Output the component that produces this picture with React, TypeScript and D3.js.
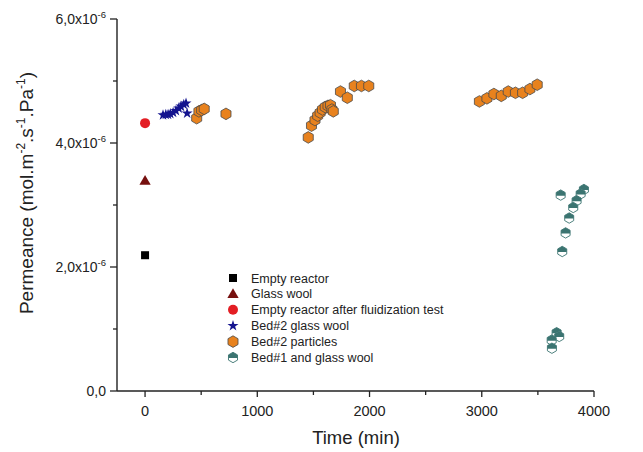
import React from "react";
import * as d3 from "d3";

const W = 643;
const H = 452;

// Data (x: time in min, y: permeance in 1e-6 mol.m-2.s-1.Pa-1)
const emptyReactorX = [0];
const emptyReactorY = [2.19];
const glassWoolX = [0];
const glassWoolY = [3.39];
const emptyAfterX = [0];
const emptyAfterY = [4.32];
const bed2WoolX = [160, 185, 205, 225, 250, 275, 300, 320, 345, 365, 375];
const bed2WoolY = [4.45, 4.46, 4.46, 4.47, 4.49, 4.52, 4.56, 4.59, 4.62, 4.64, 4.48];
const bed2PartX = [460, 480, 504, 527, 721, 1454, 1483, 1514, 1538, 1560, 1581, 1605, 1630, 1652, 1665, 1677, 1741, 1802, 1864, 1928, 1993, 2979, 3046, 3108, 3174, 3236, 3300, 3364, 3429, 3494];
const bed2PartY = [4.40, 4.51, 4.53, 4.55, 4.47, 4.09, 4.28, 4.37, 4.44, 4.49, 4.54, 4.58, 4.60, 4.61, 4.54, 4.51, 4.83, 4.73, 4.92, 4.92, 4.92, 4.67, 4.72, 4.79, 4.76, 4.83, 4.81, 4.81, 4.87, 4.94];
const bed1X = [3703, 3910, 3881, 3845, 3815, 3779, 3747, 3717, 3667, 3690, 3623, 3625];
const bed1Y = [3.16, 3.25, 3.18, 3.07, 2.96, 2.79, 2.55, 2.25, 0.94, 0.88, 0.82, 0.69];

const xMajorTicks = [0, 1000, 2000, 3000, 4000];
const xMinorTicks = [500, 1500, 2500, 3500];
const yMajorTicks = [0, 2, 4, 6];
const yMinorTicks = [1, 3, 5];
const yTickMantissa = ["0,0", "2,0", "4,0", "6,0"];

const legendLabels = [
  "Empty reactor",
  "Glass wool",
  "Empty reactor after fluidization test",
  "Bed#2 glass wool",
  "Bed#2 particles",
  "Bed#1 and glass wool",
];

const FONT = "'Liberation Sans', Arial, sans-serif";
const AXIS = "#222";
const ORANGE = "#e8821e";
const NAVY = "#14148f";
const RED = "#e31e24";
const WINE = "#76100f";
const TEAL = "#3b7471";

const x = d3.scaleLinear().domain([-250, 4000]).range([117, 594]);
const y = d3.scaleLinear().domain([0, 6]).range([391, 19]);

const hexPath = (r: number) => {
  const w = (r * Math.sqrt(3)) / 2;
  return `M0,${-r}L${w},${-r / 2}L${w},${r / 2}L0,${r}L${-w},${r / 2}L${-w},${-r / 2}Z`;
};
const hexTop = (r: number) => {
  const w = (r * Math.sqrt(3)) / 2;
  return `M${-w},0.6L${-w},${-r / 2}L0,${-r}L${w},${-r / 2}L${w},0.6Z`;
};

const starPath = d3.symbol(d3.symbolStar, 38)() as string;
const trianglePath = d3.symbol(d3.symbolTriangle, 55)() as string;

type MarkerKind = "square" | "triangle" | "circle" | "star" | "hexO" | "hexT";

function Marker({ kind, cx, cy }: { kind: MarkerKind; cx: number; cy: number }) {
  const t = `translate(${cx},${cy})`;
  switch (kind) {
    case "square":
      return <rect x={cx - 4} y={cy - 4} width={8} height={8} fill="#000" />;
    case "triangle":
      return <path d={trianglePath} transform={`translate(${cx},${cy + 0.8})`} fill={WINE} />;
    case "circle":
      return <circle cx={cx} cy={cy} r={5} fill={RED} />;
    case "star":
      return <path d={starPath} transform={t} fill={NAVY} />;
    case "hexO":
      return <path d={hexPath(5.8)} transform={t} fill={ORANGE} stroke="#4a4a4a" strokeWidth={0.8} />;
    case "hexT":
      return (
        <g transform={t}>
          <path d={hexPath(5.2)} fill="#fff" stroke={TEAL} strokeWidth={0.9} />
          <path d={hexTop(5.2)} fill={TEAL} />
        </g>
      );
  }
}

const series: { xs: number[]; ys: number[]; kind: MarkerKind }[] = [
  { xs: emptyReactorX, ys: emptyReactorY, kind: "square" },
  { xs: glassWoolX, ys: glassWoolY, kind: "triangle" },
  { xs: emptyAfterX, ys: emptyAfterY, kind: "circle" },
  { xs: bed2WoolX, ys: bed2WoolY, kind: "star" },
  { xs: bed2PartX, ys: bed2PartY, kind: "hexO" },
  { xs: bed1X, ys: bed1Y, kind: "hexT" },
];

export default function App() {
  const x0 = x.range()[0];
  const y0 = y.range()[0];
  return (
    <svg width={W} height={H} style={{ position: "absolute", left: 0, top: 0, background: "#fff" }} fontFamily={FONT}>
      <rect width={W} height={H} fill="#fff" />
      {/* axes */}
      <line x1={x0} x2={x0} y1={y(6)} y2={y0} stroke={AXIS} strokeWidth={1.4} />
      <line x1={x0} x2={x(4000)} y1={y0} y2={y0} stroke={AXIS} strokeWidth={1.4} />
      {yMajorTicks.map((v, i) => (
        <g key={"ym" + v}>
          <line x1={x0 - 7} x2={x0} y1={y(v)} y2={y(v)} stroke={AXIS} strokeWidth={1.3} />
          <text x={x0 - 11} y={y(v) + 5} fontSize={14} textAnchor="end" fill="#222">
            {v === 0 ? (
              yTickMantissa[i]
            ) : (
              <>
                {yTickMantissa[i] + "x10"}
                <tspan fontSize={9.5} dy={-6.5}>-6</tspan>
              </>
            )}
          </text>
        </g>
      ))}
      {yMinorTicks.map((v) => (
        <line key={"yn" + v} x1={x0 - 4} x2={x0} y1={y(v)} y2={y(v)} stroke={AXIS} strokeWidth={1.3} />
      ))}
      {xMajorTicks.map((v) => (
        <g key={"xm" + v}>
          <line x1={x(v)} x2={x(v)} y1={y0} y2={y0 + 6} stroke={AXIS} strokeWidth={1.3} />
          <text x={x(v)} y={y0 + 25} fontSize={14.5} textAnchor="middle" fill="#222">
            {v}
          </text>
        </g>
      ))}
      {xMinorTicks.map((v) => (
        <line key={"xn" + v} x1={x(v)} x2={x(v)} y1={y0} y2={y0 + 4} stroke={AXIS} strokeWidth={1.3} />
      ))}
      {/* axis titles */}
      <text x={356} y={444} fontSize={18.5} textAnchor="middle" fill="#222">
        Time (min)
      </text>
      <text transform="translate(33,193) rotate(-90)" fontSize={19} textAnchor="middle" fill="#222">
        Permeance (mol.m<tspan fontSize={12} dy={-8}>-2</tspan>
        <tspan dy={8}>.s</tspan>
        <tspan fontSize={12} dy={-8}>-1</tspan>
        <tspan dy={8}>.Pa</tspan>
        <tspan fontSize={12} dy={-8}>-1</tspan>
        <tspan dy={8}>)</tspan>
      </text>
      {/* data */}
      {series.map((s, si) => (
        <g key={"s" + si}>
          {s.xs.map((xv, i) => (
            <Marker key={i} kind={s.kind} cx={x(xv)} cy={y(s.ys[i])} />
          ))}
        </g>
      ))}
      {/* legend */}
      {legendLabels.map((lab, i) => {
        const ly = 278 + i * 15.9;
        return (
          <g key={"l" + i}>
            <Marker kind={series[i].kind} cx={233} cy={ly} />
            <text x={251} y={ly + 4.5} fontSize={12.5} fill="#222">
              {lab}
            </text>
          </g>
        );
      })}
    </svg>
  );
}
